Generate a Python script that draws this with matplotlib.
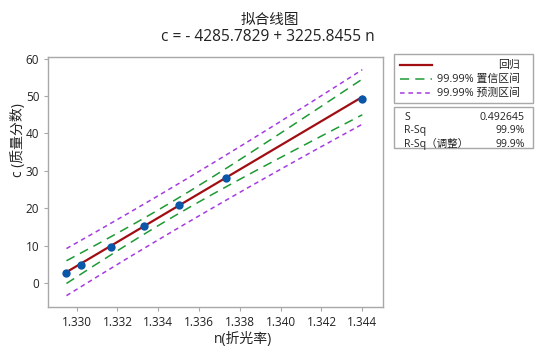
import numpy as np
import matplotlib
matplotlib.use("Agg")
import matplotlib.pyplot as plt
from matplotlib.patches import Rectangle
from matplotlib.lines import Line2D

plt.rcParams['font.family'] = ['Open Sans', 'Noto Sans CJK SC', 'DejaVu Sans']

# data
n_vals = [1.3295, 1.3302, 1.3317, 1.3333, 1.3350, 1.3373, 1.3440]
c_vals = [2.68, 5.0, 9.8, 15.4, 21.0, 28.2, 49.2]
intercept = -4285.7829
slope = 3225.8455
S = 0.492645
t_crit = 11.178  # t(0.99995, df=5)
x_ticks = [1.330, 1.332, 1.334, 1.336, 1.338, 1.340, 1.342, 1.344]
y_ticks = [0, 10, 20, 30, 40, 50, 60]
stats_labels = ["S", "R-Sq", "R-Sq（调整）"]
stats_values = ["0.492645", "99.9%", "99.9%"]
legend_labels = ["回归", "99.99% 置信区间", "99.99% 预测区间"]

W, H = 541, 352
fig = plt.figure(figsize=(W / 100, H / 100), dpi=100)

def fx(px):
    return px / W

def fy(py):
    return 1 - py / H

L, R, T, B = 48.3, 383.3, 56.7, 306.5
ax = fig.add_axes([fx(L), fy(B), fx(R) - fx(L), fy(T) - fy(B)])

n = np.array(n_vals)
c = np.array(c_vals)
xs = np.linspace(n.min(), n.max(), 200)
fit = intercept + slope * xs
xbar = n.mean()
sxx = ((n - xbar) ** 2).sum()
k = len(n)
ci = t_crit * S * np.sqrt(1 / k + (xs - xbar) ** 2 / sxx)
pi = t_crit * S * np.sqrt(1 + 1 / k + (xs - xbar) ** 2 / sxx)

red = '#a00d12'
green = '#1e9a35'
purple = '#a63be0'
blue = '#0a56a8'

ax.plot(xs, fit, color=red, lw=1.6, zorder=3)
for sgn in (1, -1):
    ax.plot(xs, fit + sgn * ci, color=green, lw=1.1, dashes=(6, 4), zorder=2)
    ax.plot(xs, fit + sgn * pi, color=purple, lw=1.1, dashes=(3, 2.5), zorder=2)
ax.scatter(n, c, s=36, color=blue, zorder=4, linewidths=0)

ax.set_xlim(1.32861, 1.34503)
ax.set_ylim(-6.2, 60.5)
ax.set_xticks(x_ticks)
ax.set_xticklabels([f"{v:.3f}" for v in x_ticks])
ax.set_yticks(y_ticks)
for sp in ax.spines.values():
    sp.set_color('#a8a8a8')
    sp.set_linewidth(1.0)
ax.tick_params(colors='#a8a8a8', labelcolor='#222222', labelsize=8.5, length=3, width=0.8)
ax.set_xlabel("n(折光率)", fontsize=10, color='#222222')
ax.set_ylabel("c (质量分数)", fontsize=10, color='#222222')
ax.xaxis.set_label_coords((243 - L) / (R - L), -(340 - B) / (B - T), transform=ax.transAxes)
ax.yaxis.set_label_coords((19 - L) / (R - L), (B - 140) / (B - T), transform=ax.transAxes)
ax.xaxis.label.set_va('center')
ax.yaxis.label.set_va('center')

fig.text(fx(270), fy(20), "拟合线图", ha='center', va='center', fontsize=10.5, color='#222222')
fig.text(fx(268), fy(37), "c = - 4285.7829 + 3225.8455 n", ha='center', va='center',
         fontsize=11.2, color='#222222')

# legend box
fig.add_artist(Rectangle((fx(394), fy(103)), fx(533) - fx(394), fy(54) - fy(103),
                         transform=fig.transFigure, fill=False, edgecolor='#a8a8a8', lw=1.0))
rows = [65, 79, 93]
styles = [dict(color=red, lw=1.6),
          dict(color=green, lw=1.1, dashes=(6, 4)),
          dict(color=purple, lw=1.1, dashes=(3, 2.5))]
for r, st, lab in zip(rows, styles, legend_labels):
    fig.add_artist(Line2D([fx(400), fx(432)], [fy(r), fy(r)], transform=fig.transFigure, **st))
    fig.text(fx(520), fy(r), lab, ha='right', va='center', fontsize=7.8, color='#222222')

# stats box
fig.add_artist(Rectangle((fx(394), fy(148)), fx(533) - fx(394), fy(107) - fy(148),
                         transform=fig.transFigure, fill=False, edgecolor='#a8a8a8', lw=1.0))
srows = [118, 131, 144]
for r, lab, val in zip(srows, stats_labels, stats_values):
    fig.text(fx(404), fy(r), lab, ha='left', va='center', fontsize=7.6, color='#222222')
    fig.text(fx(525), fy(r), val, ha='right', va='center', fontsize=7.6, color='#222222')

fig.savefig("out.png", dpi=100)
